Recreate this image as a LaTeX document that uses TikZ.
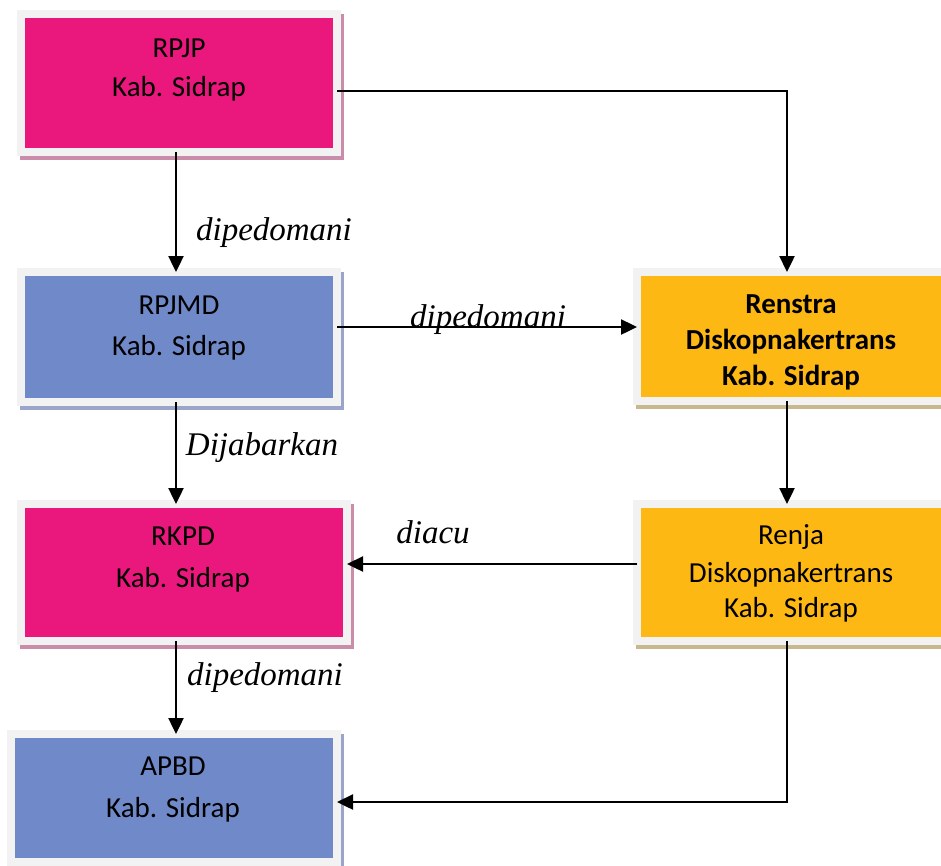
\documentclass[tikz,border=0pt]{standalone}
\usepackage{fontspec}
\setmainfont{Carlito}
\newfontfamily\lblfont{Liberation Serif}
\usetikzlibrary{arrows.meta,backgrounds}
\definecolor{pinkF}{HTML}{EA177D}
\definecolor{blueF}{HTML}{7089C9}
\definecolor{orangeF}{HTML}{FDB813}
\definecolor{frameC}{HTML}{F2F2F2}
\definecolor{pinkS}{HTML}{C98DAA}
\definecolor{blueS}{HTML}{9AA5C9}
\definecolor{tanS}{HTML}{C9B78F}
\tikzset{
  box/.style={rectangle, draw=frameC, line width=8pt, inner sep=0pt, outer sep=0pt},
  txt/.style={font=\fontsize{29}{35}\selectfont, inner sep=0pt, anchor=base},
  btxt/.style={txt, font=\fontsize{29}{35}\selectfont\bfseries},
  lbl/.style={font=\lblfont\itshape\fontsize{33}{38}\selectfont, inner sep=0pt, anchor=base},
  conn/.style={line width=2.4pt, -{Triangle[length=16pt,width=15pt]}}
}
\begin{document}
\begin{tikzpicture}[x=1pt,y=-1pt]
\useasboundingbox (0,0) rectangle (941,865);
% boxes
\node[box, fill=pinkF, minimum width=316pt, minimum height=138pt] (rpjp) at (179,83) {};
\node[box, fill=blueF, minimum width=316pt, minimum height=130pt] (rpjmd) at (179,337) {};
\node[box, fill=orangeF, minimum width=308pt, minimum height=129pt] (renstra) at (791,336.5) {};
\node[box, fill=pinkF, minimum width=326pt, minimum height=137pt] (rkpd) at (184,572.5) {};
\node[box, fill=orangeF, minimum width=308pt, minimum height=137pt] (renja) at (791,572.5) {};
\node[box, fill=blueF, minimum width=326pt, minimum height=128pt] (apbd) at (174,798) {};
% shadows
\begin{scope}[on background layer]
\fill[pinkS] ([shift={(-1,0)}]rpjp.north west) rectangle ([shift={(7,8)}]rpjp.south east);
\fill[blueS] ([shift={(-1,0)}]rpjmd.north west) rectangle ([shift={(7,8)}]rpjmd.south east);
\fill[tanS] ([shift={(-1,0)}]renstra.north west) rectangle ([shift={(7,8)}]renstra.south east);
\fill[pinkS] ([shift={(-1,0)}]rkpd.north west) rectangle ([shift={(7,8)}]rkpd.south east);
\fill[tanS] ([shift={(-1,0)}]renja.north west) rectangle ([shift={(7,8)}]renja.south east);
\fill[blueS] ([shift={(-1,0)}]apbd.north west) rectangle ([shift={(7,8)}]apbd.south east);
\end{scope}
% box texts
\node[txt] (rpjp1) at (179,57) {RPJP};
\node[txt] (rpjp2) at (179,96) {Kab. Sidrap};
\node[txt] (rpjmd1) at (179,314) {RPJMD};
\node[txt] (rpjmd2) at (179,355) {Kab. Sidrap};
\node[btxt] (renstra1) at (791,313) {Renstra};
\node[btxt] (renstra2) at (791,349) {Diskopnakertrans};
\node[btxt] (renstra3) at (791,385) {Kab. Sidrap};
\node[txt] (rkpd1) at (183,545) {RKPD};
\node[txt] (rkpd2) at (183,587) {Kab. Sidrap};
\node[txt] (renja1) at (791,544) {Renja};
\node[txt] (renja2) at (791,582) {Diskopnakertrans};
\node[txt] (renja3) at (791,617) {Kab. Sidrap};
\node[txt] (apbd1) at (173,775) {APBD};
\node[txt] (apbd2) at (173,817) {Kab. Sidrap};
% connectors
\draw[conn] ([xshift=-3pt]rpjp.south) -- ([xshift=-3pt]rpjmd.north);
\draw[conn] ([yshift=-8pt]rpjp.east) -| ([xshift=-4pt]renstra.north);
\draw[conn] ([yshift=10pt]rpjmd.east) -- ([yshift=10pt]rpjmd.east -| renstra.west);
\draw[conn] ([xshift=-3pt]rpjmd.south) -- ([xshift=-3pt]rpjmd.south |- rkpd.north);
\draw[conn] ([xshift=-4pt]renstra.south) -- ([xshift=-4pt]renja.north);
\draw[conn] ([yshift=8.5pt]renja.west) -- ([yshift=8.5pt]renja.west -| rkpd.east);
\draw[conn] ([xshift=-8pt]rkpd.south) -- ([xshift=-8pt]rkpd.south |- apbd.north);
\draw[conn] ([xshift=-4pt]renja.south) |- ([yshift=-4pt]apbd.east);
% labels
\node[lbl] (l1) at (274,240) {dipedomani};
\node[lbl] (l2) at (488,327) {dipedomani};
\node[lbl] (l3) at (262,455) {Dijabarkan};
\node[lbl] (l4) at (433,543) {diacu};
\node[lbl] (l5) at (265,685) {dipedomani};
\end{tikzpicture}
\end{document}
